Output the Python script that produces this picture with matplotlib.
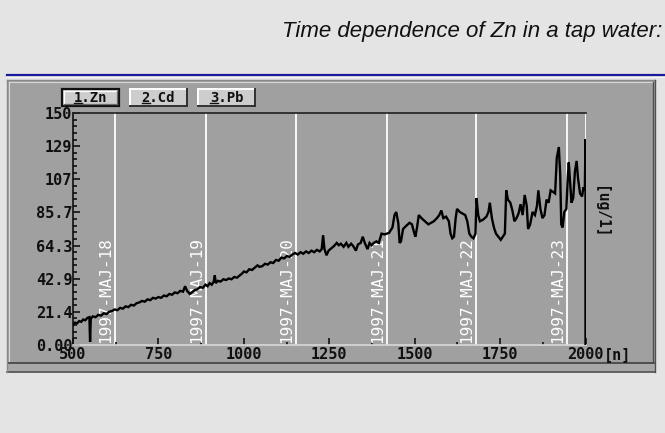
import matplotlib
matplotlib.use('Agg')
import matplotlib.pyplot as plt
from matplotlib.patches import Rectangle
from matplotlib.lines import Line2D
from matplotlib.ticker import FixedLocator

# ---------------- data ----------------
sample_n = [500, 506, 512, 518, 524, 530, 536, 542, 548, 550, 552, 558, 566, 574, 582,
            590, 598, 606, 614, 622, 630, 638, 646, 654, 662, 670, 678, 686, 694, 702,
            710, 718, 726, 734, 742, 750, 758, 766, 774, 782, 790, 798, 806, 814, 822,
            828, 834, 842, 848, 856, 864, 872, 880, 888, 894, 900, 906, 912, 915, 918,
            924, 932, 940, 948, 956, 964, 972, 980, 988, 994, 1000, 1008, 1016, 1024, 1032,
            1040, 1046, 1054, 1062, 1070, 1078, 1086, 1094, 1102, 1110, 1118, 1126, 1134, 1142, 1150,
            1158, 1166, 1174, 1182, 1190, 1198, 1206, 1214, 1222, 1228, 1232, 1236, 1242, 1248, 1256,
            1264, 1272, 1278, 1284, 1292, 1300, 1306, 1314, 1320, 1328, 1334, 1342, 1348, 1354, 1362,
            1368, 1374, 1380, 1388, 1395, 1403, 1412, 1425, 1435, 1441, 1446, 1452, 1456, 1460, 1466,
            1475, 1485, 1492, 1498, 1502, 1507, 1512, 1520, 1530, 1540, 1548, 1556, 1565, 1572, 1578,
            1584, 1592, 1600, 1605, 1610, 1615, 1620, 1624, 1632, 1640, 1648, 1654, 1660, 1666, 1672,
            1678, 1681, 1686, 1691, 1700, 1710, 1716, 1720, 1726, 1732, 1738, 1745, 1752, 1758, 1764,
            1768, 1773, 1780, 1786, 1792, 1798, 1804, 1810, 1816, 1822, 1828, 1832, 1838, 1845, 1852,
            1858, 1862, 1868, 1874, 1880, 1886, 1892, 1898, 1905, 1911, 1916, 1922, 1926, 1929, 1933,
            1938, 1944, 1948, 1951, 1955, 1959, 1964, 1969, 1974, 1978, 1984, 1990, 1994, 1998, 2000,
            2000]
zn_ugl = [13, 14.5, 14, 15.5, 15, 16.5, 16, 17.5, 18, 2, 17, 18.5, 18, 19.5, 19,
          20.5, 20, 21.5, 22, 23, 22.5, 24, 23.5, 25, 24.5, 26, 25.5, 27, 27.5, 28.5,
          28, 29.5, 29, 30.5, 30, 31, 30.5, 32, 31.5, 33, 32.5, 34, 33.5, 35, 34.5,
          38, 35, 33, 34, 35.5, 36, 37.5, 37, 39, 38, 40, 39, 41, 45, 40,
          41.5, 41, 42.5, 42, 43, 42.5, 44, 43.5, 45, 46, 47.5, 47, 49, 48.5, 50,
          51.5, 50.5, 51, 52.5, 52, 53.5, 53, 55, 54.5, 56.5, 56, 57.5, 57, 58.5, 59.5,
          58.5, 60, 59, 60.5, 59.5, 61, 60, 61.5, 60.5, 62, 71, 62, 58, 61, 62.5,
          64, 66, 64.5, 65.5, 63.5, 66, 63.5, 65.5, 64, 61, 65, 66, 70, 66, 62,
          66, 64.5, 66, 67, 66, 72, 71.5, 72.5, 76, 84, 86, 79, 66, 67, 75,
          77, 79, 78, 73, 70, 76, 84, 82, 80, 78, 79, 80, 82, 84, 87,
          82, 83, 80, 72, 69, 70, 82, 88, 86, 85, 84, 80, 72, 70, 69,
          72, 95, 84, 80, 81, 83, 86, 92, 82, 76, 72, 70, 68, 70, 72,
          100, 94, 92, 87, 80, 82, 85, 91, 84, 97, 90, 75, 78, 86, 84,
          90, 100, 88, 82, 84, 94, 92, 100, 99, 98, 121, 128, 110, 78, 76,
          86, 88, 108, 118, 105, 92, 95, 112, 119, 108, 98, 96, 102, 100, 133,
          0]
assert len(sample_n) == len(zn_ugl)

date_n = [622, 888, 1152, 1418, 1680, 1945]
date_labels = ['1997-MAJ-18', '1997-MAJ-19', '1997-MAJ-20',
               '1997-MAJ-21', '1997-MAJ-22', '1997-MAJ-23']

x_ticks = [500, 750, 1000, 1250, 1500, 1750, 2000]
x_minor = [625, 875, 1125, 1375, 1625, 1875]
x_tick_labels = ['500', '750', '1000', '1250', '1500', '1750', '2000']
y_ticks = [0, 150 / 7, 300 / 7, 450 / 7, 600 / 7, 750 / 7, 900 / 7, 150]
y_tick_labels = ['0.00', '21.4', '42.9', '64.3', '85.7', '107', '129', '150']
button_labels = ['1.Zn', '2.Cd', '3.Pb']
title_text = 'Time dependence of Zn in a tap water:'
y_unit = '[ug/1]'
x_unit = '[n]'

# ---------------- layout ----------------
W, H = 665, 433
BG = '#e4e4e4'
PANEL = '#a0a0a0'
fig = plt.figure(figsize=(W / 100, H / 100), dpi=100, facecolor=BG)


def fx(px):
    return px / W


def fy(py):
    return 1 - py / H


def hline(x0, x1, y, color, lw=1.0, z=1):
    fig.add_artist(Line2D([fx(x0), fx(x1)], [fy(y), fy(y)], color=color, lw=lw,
                          transform=fig.transFigure, zorder=z))


def vline(x, y0, y1, color, lw=1.0, z=1):
    fig.add_artist(Line2D([fx(x), fx(x)], [fy(y0), fy(y1)], color=color, lw=lw,
                          transform=fig.transFigure, zorder=z))


def rect(x0, y0, x1, y1, fc, ec='none', lw=0, z=0.5):
    fig.add_artist(Rectangle((fx(x0), fy(y1)), fx(x1) - fx(x0), fy(y0) - fy(y1),
                             transform=fig.transFigure, facecolor=fc, edgecolor=ec,
                             lw=lw, zorder=z))


fig.text(fx(662), fy(32), title_text, ha='right', va='center', style='italic',
         family=['Liberation Sans', 'DejaVu Sans'], size=16, color='#111111')

# blue separator line
hline(7, 665, 75, '#1a1a9a', lw=1.6)
hline(7, 665, 77, '#f4f4f4', lw=0.8)

# panel
rect(7, 80, 655, 372, '#a8a8a8', z=0.3)
rect(8, 81, 654, 363, PANEL, z=0.4)
hline(7, 655, 80, '#888888', lw=1)
hline(9, 653, 82, '#d8d8d8', lw=0.8)
vline(9, 82, 361, '#d8d8d8', lw=0.8)
vline(653, 82, 362, '#505050', lw=1)
hline(8, 654, 363, '#404040', lw=1.2)
hline(7, 655, 372, '#505050', lw=1.2)
vline(7, 80, 372, '#888888', lw=1)
vline(655, 80, 372, '#505050', lw=1)

# buttons
mono = 'DejaVu Sans Mono'
btn_x = [(62, 119), (130, 187), (198, 255)]
btn_y = (89, 106)
btn_texts = []
for i, (lab, (x0, x1)) in enumerate(zip(button_labels, btn_x)):
    y0, y1 = btn_y
    rect(x0, y0, x1, y1, '#cdcdcd', z=2)
    if i == 0:
        rect(x0, y0, x1, y1, 'none', ec='#101010', lw=1.6, z=2.1)
        hline(x0 + 2, x1 - 2, y0 + 2, '#ffffff', lw=0.9, z=2.2)
        vline(x0 + 2, y0 + 2, y1 - 2, '#ffffff', lw=0.9, z=2.2)
        hline(x0 + 2, x1 - 2, y1 - 2, '#6a6a6a', lw=0.9, z=2.2)
        vline(x1 - 2, y0 + 2, y1 - 2, '#6a6a6a', lw=0.9, z=2.2)
    else:
        hline(x0, x1, y0, '#ffffff', lw=1.4, z=2.2)
        vline(x0, y0, y1, '#ffffff', lw=1.4, z=2.2)
        hline(x0, x1, y1, '#303030', lw=1.4, z=2.2)
        vline(x1, y0, y1, '#303030', lw=1.4, z=2.2)
    t = fig.text(fx((x0 + x1) / 2), fy((y0 + y1) / 2 + 0.5), lab, ha='center', va='center',
                 family=mono, weight='bold', size=10, color='#101010', zorder=3)
    btn_texts.append(t)

# axes
ax = fig.add_axes([fx(73), fy(345), fx(585.5) - fx(73), (345 - 113) / H])
ax.set_zorder(1.5)
ax.patch.set_visible(False)
ax.set_xlim(500, 2000)
ax.set_ylim(0, 150)

for xd in date_n:
    ax.axvline(xd, color='white', lw=1.3, zorder=1)
ax.axvline(2000, color='white', lw=1.3, zorder=1)

ax.plot(sample_n, zn_ugl, color='black', lw=1.7, zorder=3, solid_joinstyle='miter')

for xd, lab in zip(date_n, date_labels):
    ax.annotate(lab, xy=(xd, 0), xytext=(-1.2, 1.2), textcoords='offset points',
                rotation=90, ha='right', va='bottom', color='white',
                family=mono, size=11.5, zorder=2)

ax.spines['right'].set_visible(False)
ax.spines['top'].set_color('#202020')
ax.spines['left'].set_color('#101010')
ax.spines['bottom'].set_color('#d8d8d8')
for s in ('top', 'left', 'bottom'):
    ax.spines[s].set_linewidth(1.2)

ax.xaxis.set_major_locator(FixedLocator(x_ticks))
ax.xaxis.set_minor_locator(FixedLocator(x_minor))
ax.set_xticklabels(x_tick_labels)
ax.yaxis.set_major_locator(FixedLocator(y_ticks))
minor_y = [y_ticks[i] + (y_ticks[i + 1] - y_ticks[i]) * k / 5
           for i in range(len(y_ticks) - 1) for k in range(1, 5)]
ax.yaxis.set_minor_locator(FixedLocator(minor_y))
ax.set_yticklabels(y_tick_labels)

ax.tick_params(axis='both', which='both', direction='in', colors='#101010', width=1.2)
ax.tick_params(axis='x', which='major', length=5, pad=1.5)
ax.tick_params(axis='x', which='minor', length=2)
ax.tick_params(axis='y', which='major', length=5, pad=0.5)
ax.tick_params(axis='y', which='minor', length=3)
for lab in ax.get_xticklabels() + ax.get_yticklabels():
    lab.set_family(mono)
    lab.set_weight('bold')
    lab.set_size(11)
    lab.set_color('#101010')

# "[n]" sits right after the "2000" tick label on the same baseline
fig.canvas.draw()
r = fig.canvas.get_renderer()
last_lab = [l for l in ax.get_xticklabels() if l.get_text() == '2000'][0]
lb = last_lab.get_window_extent(r)
fig.text(lb.x1 / W, lb.y0 / H, x_unit, ha='left', va='bottom', family=mono,
         weight='bold', size=11, color='#101010', zorder=3)

fig.text(fx(601), fy(212), y_unit, rotation=270, ha='center', va='center',
         family=mono, weight='bold', size=10.5, color='#101010', zorder=3)

# underline the hot-key digit of each button
for t in btn_texts:
    bb = t.get_window_extent(r)
    cw = bb.width / len(t.get_text())
    yy = bb.y0 + 1.8
    fig.add_artist(Line2D([bb.x0 / W, (bb.x0 + cw) / W], [yy / H, yy / H],
                          color='#101010', lw=1.0, transform=fig.transFigure, zorder=3))

fig.savefig('out.png', dpi=100, facecolor=BG)
